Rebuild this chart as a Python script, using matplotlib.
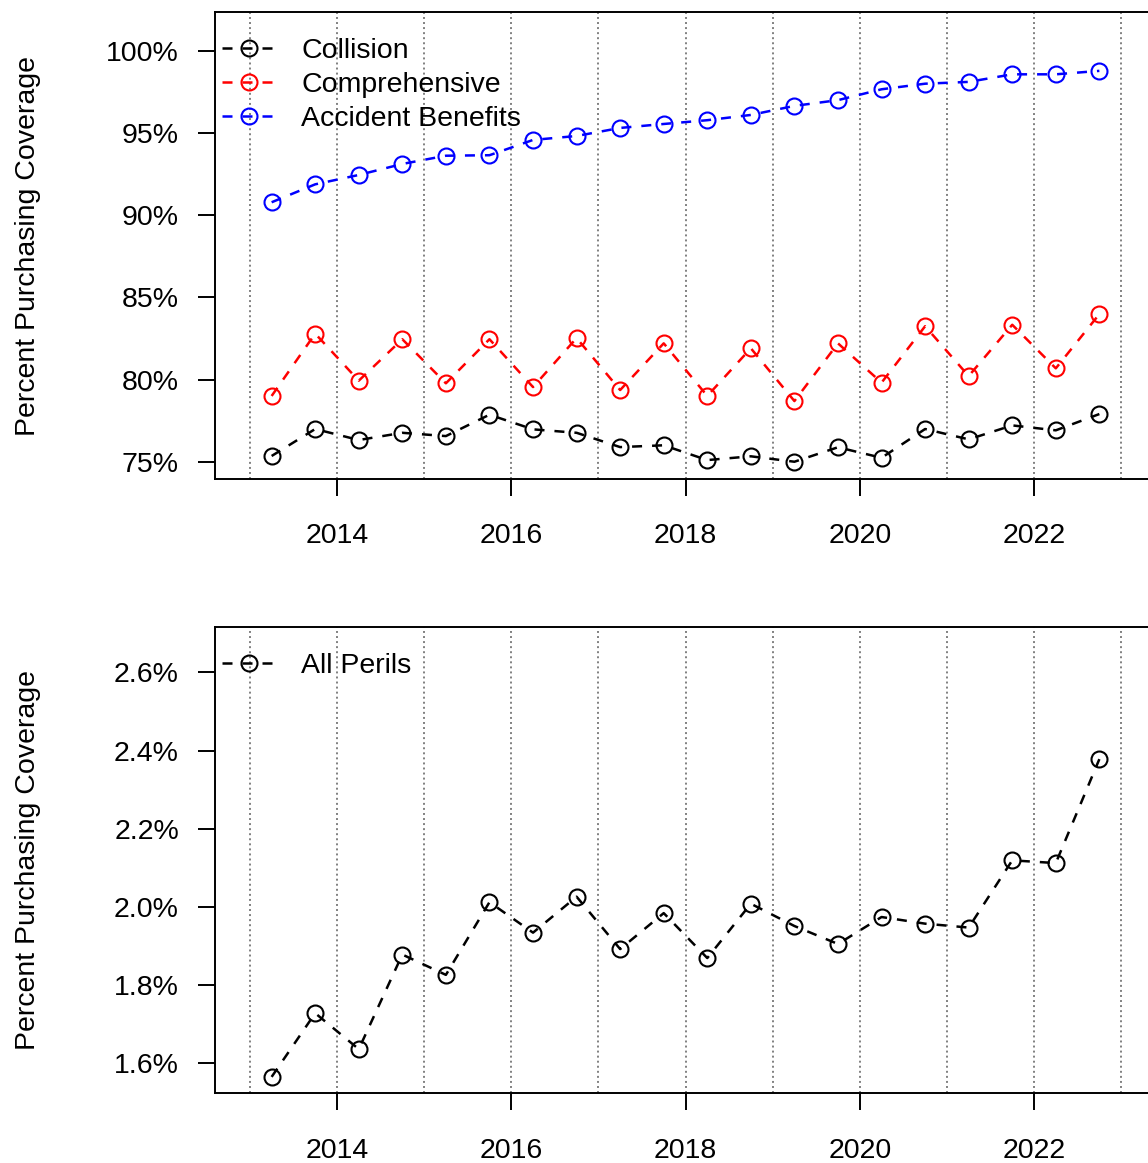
import matplotlib
matplotlib.use('Agg')
import matplotlib.pyplot as plt
from matplotlib.ticker import FuncFormatter

plt.rcParams['font.family'] = ['Liberation Sans', 'DejaVu Sans']

# semi-annual periods
periods = [2013.25, 2013.75, 2014.25, 2014.75, 2015.25, 2015.75, 2016.25, 2016.75,
           2017.25, 2017.75, 2018.25, 2018.75, 2019.25, 2019.75, 2020.25, 2020.75,
           2021.25, 2021.75, 2022.25, 2022.75]

collision = [75.35, 76.99, 76.32, 76.76, 76.56, 77.86, 76.97, 76.76, 75.89, 76.00,
             75.10, 75.33, 75.00, 75.88, 75.24, 76.99, 76.36, 77.21, 76.91, 77.90]
comprehensive = [79.00, 82.79, 79.93, 82.45, 79.77, 82.45, 79.54, 82.52, 79.36, 82.20,
                 79.00, 81.90, 78.69, 82.20, 79.81, 83.24, 80.21, 83.33, 80.68, 83.98]
accident_benefits = [90.78, 91.87, 92.44, 93.11, 93.61, 93.64, 94.57, 94.81, 95.30, 95.54,
                     95.77, 96.09, 96.64, 96.99, 97.65, 97.99, 98.10, 98.56, 98.56, 98.77]
all_perils = [1.565, 1.728, 1.636, 1.878, 1.826, 2.012, 1.934, 2.026, 1.892, 1.984,
              1.869, 2.008, 1.951, 1.905, 1.974, 1.957, 1.947, 2.119, 2.112, 2.378]

year_lines = list(range(2013, 2024))
x_ticks = [2014, 2016, 2018, 2020, 2022]
top_yticks = [75, 80, 85, 90, 95, 100]
bottom_yticks = [1.6, 1.8, 2.0, 2.2, 2.4, 2.6]

FS = 20.5
W, H = 1148, 1163
fig = plt.figure(figsize=(W / 100, H / 100), dpi=100)

ax1 = fig.add_axes([215 / W, 1 - 479 / H, 941 / W, 467 / H])
ax2 = fig.add_axes([215 / W, 1 - 1093.3 / H, 941 / W, 466.3 / H])


def style_axis(ax):
    for yr in year_lines:
        ax.axvline(yr, color='#808080', linestyle=(0, (1, 1.6)), linewidth=1.4, zorder=0)
    for sp in ax.spines.values():
        sp.set_linewidth(1.4)
    ax.set_xlim(2012.6, 2023.4)
    ax.set_xticks(x_ticks)
    ax.tick_params(axis='both', length=12, width=1.4, labelsize=FS)
    ax.tick_params(axis='x', pad=20)
    ax.tick_params(axis='y', pad=14)
    ax.set_ylabel('Percent Purchasing Coverage', fontsize=FS)
    ax.yaxis.set_label_coords(-0.185, 0.5)


def plot_series(ax, y, color, label):
    ax.plot(periods, y, color=color, linestyle='--', dashes=(4, 4), linewidth=1.8,
            marker='o', markersize=11.5, markerfacecolor='none',
            markeredgecolor=color, markeredgewidth=1.5, label=label)


def add_legend(ax):
    ax.legend(loc='upper left', bbox_to_anchor=(0.0074, 0.944), frameon=False,
              fontsize=FS, handlelength=1.9, handletextpad=0.88, labelspacing=0.28,
              borderaxespad=0, borderpad=0)


style_axis(ax1)
plot_series(ax1, collision, 'black', 'Collision')
plot_series(ax1, comprehensive, 'red', 'Comprehensive')
plot_series(ax1, accident_benefits, 'blue', 'Accident Benefits')
ax1.set_ylim(73.95, 102.35)
ax1.set_yticks(top_yticks)
ax1.yaxis.set_major_formatter(FuncFormatter(lambda v, p: f'{v:.0f}%'))
add_legend(ax1)

style_axis(ax2)
plot_series(ax2, all_perils, 'black', 'All Perils')
ax2.set_ylim(1.523, 2.716)
ax2.set_yticks(bottom_yticks)
ax2.yaxis.set_major_formatter(FuncFormatter(lambda v, p: f'{v:.1f}%'))
add_legend(ax2)

fig.savefig('out.png', dpi=100)
